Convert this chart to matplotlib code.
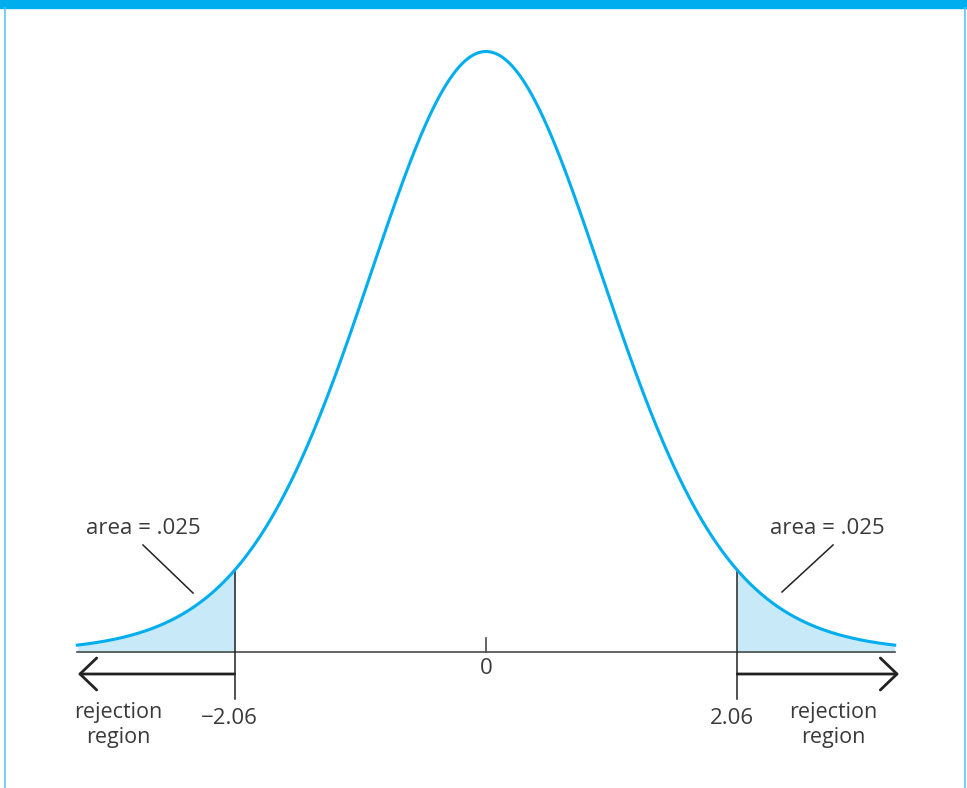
import math
import numpy as np
import matplotlib.pyplot as plt
from matplotlib.patches import Rectangle
from matplotlib.lines import Line2D

# two-tailed t test drawing
curve_df = 15          # shape of the drawn bell curve
t_crit = 2.06
tail_area = ".025"
x_min, x_max = -3.35, 3.35
center_label = "0"
crit_labels = ["\u22122.06", "2.06"]
region_label = "rejection\nregion"

BLUE = "#00AEEF"
FILL = "#C8E9F8"
INK = "#3A3A3A"

W, H = 967, 788
# pixel geometry of the reference
PX_X0, PX_PER_UNIT = 486, 122.0
PX_Y0, PX_PEAK = 652, 600.5


def t_pdf(x, nu):
    c = math.gamma((nu + 1) / 2) / (math.sqrt(nu * math.pi) * math.gamma(nu / 2))
    return c * (1 + np.asarray(x) ** 2 / nu) ** (-(nu + 1) / 2)


PX_PER_DENS = PX_PEAK / t_pdf(0.0, curve_df)


def px_x(p):
    return (p - PX_X0) / PX_PER_UNIT


def px_y(p):
    return (PX_Y0 - p) / PX_PER_DENS


plt.rcParams['font.family'] = ['Open Sans', 'DejaVu Sans']

fig = plt.figure(figsize=(W / 100, H / 100), dpi=100)
ax = fig.add_axes([0, 0, 1, 1])
ax.set_xlim(px_x(0), px_x(W))
ax.set_ylim(px_y(H), px_y(0))
ax.axis('off')

# frame: thick bar on top, thin lines at the sides
fig.patches.append(Rectangle((0, 1 - 8 / H), 1, 8 / H, transform=fig.transFigure,
                             color=BLUE, zorder=0))
for xp in (5, 965):
    fig.lines.append(Line2D([xp / W, xp / W], [0, 1 - 8 / H], transform=fig.transFigure,
                            color="#5CC6F0", lw=1.2))

x = np.linspace(x_min, x_max, 600)
y = t_pdf(x, curve_df)

# shaded tails
xl = np.append(x[x < -t_crit], -t_crit)
xr = np.insert(x[x > t_crit], 0, t_crit)
ax.fill_between(xl, 0, t_pdf(xl, curve_df), color=FILL, lw=0, zorder=1)
ax.fill_between(xr, 0, t_pdf(xr, curve_df), color=FILL, lw=0, zorder=1)

# horizontal axis and center tick
ax.plot([x_min, x_max], [0, 0], color="#4A4A4A", lw=1.2, zorder=2)
ax.plot([0, 0], [0, px_y(638)], color="#4A4A4A", lw=1.2, zorder=2)
ax.text(0, px_y(668), center_label, ha='center', va='center', fontsize=16, color=INK)

# critical lines
for c in (-t_crit, t_crit):
    ax.plot([c, c], [px_y(699), t_pdf(c, curve_df)], color="#222222", lw=1.1, zorder=3)

# curve
ax.plot(x, y, color=BLUE, lw=2.2, zorder=4)

# rejection region arrows
y_arr = px_y(674)
arrow = dict(arrowstyle="->,head_length=1.2,head_width=1.15",
             color="#222222", lw=2.0, shrinkA=0, shrinkB=0)
ax.annotate("", xy=(px_x(78), y_arr), xytext=(-t_crit, y_arr), arrowprops=arrow)
ax.annotate("", xy=(px_x(899), y_arr), xytext=(t_crit, y_arr), arrowprops=arrow)

# labels under the axis
ax.text(px_x(229), px_y(718), crit_labels[0], ha='center', va='center',
        fontsize=16, color=INK)
ax.text(px_x(732), px_y(718), crit_labels[1], ha='center', va='center',
        fontsize=16, color=INK)
ax.text(px_x(118), px_y(725), region_label, ha='center', va='center',
        fontsize=15.5, color=INK, linespacing=1.25)
ax.text(px_x(833), px_y(725), region_label, ha='center', va='center',
        fontsize=15.5, color=INK, linespacing=1.25)

# tail area callouts
area_text = "area = " + tail_area
ax.text(px_x(143), px_y(529), area_text, ha='center', va='center', fontsize=16, color=INK)
ax.plot([px_x(143), px_x(193)], [px_y(545), px_y(593)], color="#222222", lw=1.1)
ax.text(px_x(827), px_y(529), area_text, ha='center', va='center', fontsize=16, color=INK)
ax.plot([px_x(833), px_x(782)], [px_y(545), px_y(592)], color="#222222", lw=1.1)

fig.savefig("out.png", dpi=100)
